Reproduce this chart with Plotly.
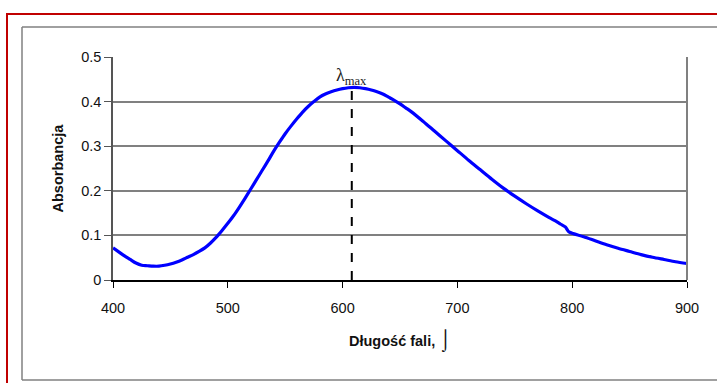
import plotly.graph_objects as go

# Absorption spectrum: wavelength (nm) vs absorbance
wavelength = [400, 405, 410, 415, 420, 425, 430, 435, 440, 445, 450, 455, 460, 465,
              470, 475, 480, 485, 490, 495, 500, 505, 510, 515, 520, 525, 530, 535,
              540, 545, 550, 555, 560, 565, 570, 575, 580, 585, 590, 595, 600, 605,
              610, 615, 620, 625, 630, 635, 640, 645, 650, 655, 660, 670, 680, 690,
              700, 710, 720, 730, 740, 750, 760, 770, 780, 785, 790, 794, 797, 800,
              810, 820, 830, 840, 850, 860, 870, 880, 890, 900]
absorbance = [0.072, 0.063, 0.054, 0.046, 0.038, 0.033, 0.032, 0.031, 0.031, 0.033,
              0.036, 0.040, 0.045, 0.051, 0.057, 0.064, 0.072, 0.083, 0.096, 0.111,
              0.127, 0.144, 0.163, 0.183, 0.204, 0.225, 0.246, 0.267, 0.289, 0.309,
              0.328, 0.345, 0.361, 0.376, 0.389, 0.400, 0.410, 0.417, 0.422, 0.426,
              0.429, 0.431, 0.432, 0.431, 0.429, 0.426, 0.422, 0.417, 0.410, 0.403,
              0.395, 0.386, 0.377, 0.356, 0.334, 0.312, 0.290, 0.268, 0.247, 0.226,
              0.206, 0.188, 0.171, 0.155, 0.140, 0.133, 0.125, 0.119, 0.108, 0.105,
              0.097, 0.088, 0.079, 0.071, 0.064, 0.057, 0.051, 0.046, 0.041, 0.037]

lambda_max = 608
a_max = 0.432

x_ticks = [400, 500, 600, 700, 800, 900]
y_ticks = [0, 0.1, 0.2, 0.3, 0.4, 0.5]
y_tick_labels = ["0", "0.1", "0.2", "0.3", "0.4", "0.5"]

W, H = 717, 383
ML, MR, MT, MB = 113, 30, 57, 103
PW, PH = W - ML - MR, H - MT - MB


def px(xp):
    return (xp - ML) / PW


def py(yp):
    return (H - MB - yp) / PH


fig = go.Figure()

fig.add_trace(go.Scatter(
    x=wavelength, y=absorbance, mode="lines",
    line=dict(color="#0000ff", width=3.2, shape="spline", smoothing=0.8),
    hoverinfo="skip", showlegend=False,
))

fig.add_trace(go.Scatter(
    x=[lambda_max, lambda_max], y=[0, a_max], mode="lines",
    line=dict(color="black", width=2, dash="dash"),
    hoverinfo="skip", showlegend=False,
))

font_sans = "Liberation Sans, Arial, sans-serif"

shapes = [
    # darker gridline at 0.3
    dict(type="line", xref="paper", yref="y", x0=0, x1=1, y0=0.3, y1=0.3,
         line=dict(color="black", width=1), layer="below"),
    # right border of the plot area
    dict(type="line", xref="paper", yref="paper", x0=1, x1=1, y0=0, y1=1,
         line=dict(color="#808080", width=2)),
    # outer grey frame
    dict(type="line", xref="paper", yref="paper", x0=px(22), x1=px(730),
         y0=py(27), y1=py(27), line=dict(color="#808080", width=1.5)),
    dict(type="line", xref="paper", yref="paper", x0=px(22), x1=px(22),
         y0=py(27), y1=py(380), line=dict(color="#808080", width=1.5)),
    dict(type="line", xref="paper", yref="paper", x0=px(22), x1=px(730),
         y0=py(380), y1=py(380), line=dict(color="#808080", width=1.5)),
    # red page frame
    dict(type="line", xref="paper", yref="paper", x0=px(6), x1=px(730),
         y0=py(14), y1=py(14), line=dict(color="#c00000", width=2)),
    dict(type="line", xref="paper", yref="paper", x0=px(7), x1=px(7),
         y0=py(14), y1=py(395), line=dict(color="#c00000", width=2)),
]

annotations = [
    dict(text="λ<sub>max</sub>", x=lambda_max, y=a_max, xref="x", yref="y",
         xanchor="center", yanchor="bottom", yshift=-3, showarrow=False,
         font=dict(family="Liberation Serif, Times New Roman, serif", size=18,
                   color="#222")),
    dict(text="<b>Absorbancja</b>", x=px(57), y=0.5, xref="paper", yref="paper",
         xanchor="center", yanchor="middle", textangle=-90, showarrow=False,
         font=dict(family=font_sans, size=14.5, color="#111")),
    dict(text="<b>Długość fali, </b><span style='font-size:20px'>⌡</span>",
         x=0.5, y=py(340), xref="paper", yref="paper",
         xanchor="center", yanchor="middle", showarrow=False,
         font=dict(family=font_sans, size=14.5, color="#111")),
]

fig.update_layout(
    width=W, height=H,
    margin=dict(l=ML, r=MR, t=MT, b=MB, pad=0),
    paper_bgcolor="white", plot_bgcolor="white",
    shapes=shapes, annotations=annotations,
    xaxis=dict(range=[400, 900], tickvals=x_ticks, showgrid=False,
               showline=True, linecolor="black", linewidth=1.5,
               ticks="outside", ticklen=6, tickcolor="black",
               ticklabelstandoff=8,
               tickfont=dict(family=font_sans, size=14.5, color="#111"),
               zeroline=False, fixedrange=True),
    yaxis=dict(range=[0, 0.5], tickvals=y_ticks, ticktext=y_tick_labels,
               showgrid=True, gridcolor="#808080", gridwidth=1.5,
               showline=True, linecolor="#555", linewidth=1.5,
               ticks="outside", ticklen=7, tickcolor="#555",
               tickfont=dict(family=font_sans, size=14.5, color="#111"),
               zeroline=False, fixedrange=True),
)

fig.write_html("out.html")
